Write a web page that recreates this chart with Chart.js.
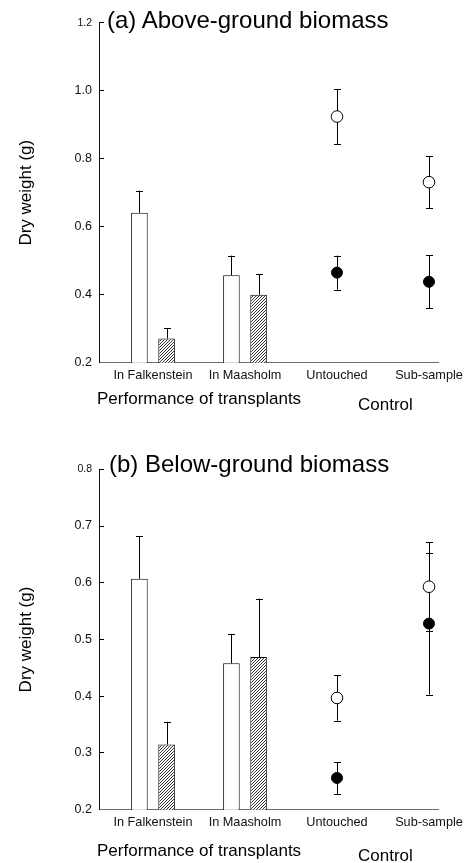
<!DOCTYPE html>
<html>
<head>
<meta charset="utf-8">
<script src="https://cdn.jsdelivr.net/npm/chart.js@4.4.1/dist/chart.umd.min.js"></script>
<style>
  html, body { margin: 0; padding: 0; background: #fff; }
  body { width: 472px; height: 863px; position: relative; overflow: hidden;
         font-family: "Liberation Sans", Arial, sans-serif; color: #000; }
  .panel { position: absolute; left: 0; width: 472px; }
  #p1 { top: 0; height: 430px; }
  #p2 { top: 430px; height: 433px; }
  .lbl { position: absolute; white-space: nowrap; line-height: 1; color: #000; }
  .ttl { font-size: 24px; }
  .grp { font-size: 17px; }
</style>
</head>
<body>
<div class="panel" id="p1"><canvas id="c1"></canvas></div>
<div class="panel" id="p2"><canvas id="c2"></canvas></div>

<div class="lbl ttl" style="left:107px; top:8px;">(a) Above-ground biomass</div>
<div class="lbl grp" style="left:97px; top:390px;">Performance of transplants</div>
<div class="lbl grp" style="left:358px; top:396px;">Control</div>

<div class="lbl ttl" style="left:109px; top:452px;">(b) Below-ground biomass</div>
<div class="lbl grp" style="left:97px; top:842px;">Performance of transplants</div>
<div class="lbl grp" style="left:358px; top:847px;">Control</div>

<script>
// ---------------- DATA ----------------
const categories = ['In Falkenstein', 'In Maasholm', 'Untouched', 'Sub-sample'];
const transplantIdx = [0, 1];   // categories with bars
const controlIdx = [2, 3];      // categories with points

// (a) Above-ground biomass
const aboveWhite = [0.641, 0.457];
const aboveWhiteErr = [0.065, 0.058];
const aboveHatch = [0.271, 0.400];
const aboveHatchErr = [0.031, 0.060];
const aboveOpen = [0.924, 0.731];
const aboveOpenErr = [0.081, 0.076];
const aboveFilled = [0.465, 0.438];
const aboveFilledErr = [0.050, 0.078];
const aboveTicks = [0.2, 0.4, 0.6, 0.8, 1.0, 1.2];

// (b) Below-ground biomass
const belowWhite = [0.607, 0.458];
const belowWhiteErr = [0.075, 0.052];
const belowHatch = [0.315, 0.469];
const belowHatchErr = [0.040, 0.103];
const belowOpen = [0.397, 0.593];
const belowOpenErr = [0.040, 0.078];
const belowFilled = [0.256, 0.528];
const belowFilledErr = [0.028, 0.125];
const belowTicks = [0.2, 0.3, 0.4, 0.5, 0.6, 0.7, 0.8];

const yTitle = 'Dry weight (g)';

// ---------------- STYLE / HELPERS ----------------
const FONT = '"Liberation Sans", Arial, sans-serif';
Chart.defaults.font.family = FONT;
Chart.defaults.color = '#111';

function makeHatch() {
  const s = 3;
  const c = document.createElement('canvas');
  c.width = s; c.height = s;
  const g = c.getContext('2d');
  g.fillStyle = '#fff'; g.fillRect(0, 0, s, s);
  g.strokeStyle = '#1a1a1a'; g.lineWidth = 0.9;
  g.beginPath();
  g.moveTo(0, s); g.lineTo(s, 0);
  g.moveTo(-1, 1); g.lineTo(1, -1);
  g.moveTo(s - 1, s + 1); g.lineTo(s + 1, s - 1);
  g.stroke();
  return g.createPattern(c, 'repeat');
}
const hatch = makeHatch();

const errorBarPlugin = {
  id: 'errorBars',
  beforeDatasetsDraw(chart) {
    const ctx = chart.ctx;
    const ys = chart.scales.y;
    const cap = 3.5;
    chart.data.datasets.forEach((ds, di) => {
      if (!ds.errors) return;
      const meta = chart.getDatasetMeta(di);
      meta.data.forEach((el, i) => {
        const v = ds.data[i].y, e = ds.errors[i];
        const px = Math.round(el.x) + 0.5;
        const top = ys.getPixelForValue(v + e);
        const bot = ds.errorBoth ? ys.getPixelForValue(v - e) : ys.getPixelForValue(v);
        ctx.save();
        ctx.strokeStyle = '#000';
        ctx.lineWidth = 1;
        ctx.beginPath();
        ctx.moveTo(px, top); ctx.lineTo(px, bot);
        ctx.moveTo(px - cap, Math.round(top) + 0.5); ctx.lineTo(px + cap, Math.round(top) + 0.5);
        if (ds.errorBoth) {
          ctx.moveTo(px - cap, Math.round(bot) + 0.5); ctx.lineTo(px + cap, Math.round(bot) + 0.5);
        }
        ctx.stroke();
        ctx.restore();
      });
    });
  }
};

function pts(idx, vals) { return idx.map((x, i) => ({ x: x, y: vals[i] })); }

function buildChart(canvasId, opts) {
  const yMax = opts.ticks[opts.ticks.length - 1];
  const yMin = opts.ticks[0];
  return new Chart(document.getElementById(canvasId), {
    type: 'bar',
    data: {
      datasets: [
        { label: 'white', data: pts(transplantIdx, opts.white), errors: opts.whiteErr,
          backgroundColor: '#fff', borderColor: '#000', borderWidth: 1,
          categoryPercentage: 0.59, barPercentage: 0.61 },
        { label: 'hatched', data: pts(transplantIdx, opts.hatch), errors: opts.hatchErr,
          backgroundColor: hatch, borderColor: '#000', borderWidth: 1,
          categoryPercentage: 0.59, barPercentage: 0.61 },
        { type: 'scatter', label: 'open', data: pts(controlIdx, opts.open), errors: opts.openErr, errorBoth: true,
          pointRadius: 5.8, pointBackgroundColor: '#fff', pointBorderColor: '#000', pointBorderWidth: 1 },
        { type: 'scatter', label: 'filled', data: pts(controlIdx, opts.filled), errors: opts.filledErr, errorBoth: true,
          pointRadius: 5.5, pointBackgroundColor: '#000', pointBorderColor: '#000', pointBorderWidth: 1 }
      ]
    },
    plugins: [errorBarPlugin],
    options: {
      responsive: true,
      maintainAspectRatio: false,
      animation: false,
      events: [],
      layout: { padding: { top: opts.padTop, right: 34, bottom: 0, left: 0 } },
      plugins: { legend: { display: false }, tooltip: { enabled: false }, title: { display: false } },
      scales: {
        x: {
          type: 'linear',
          offset: false,
          bounds: 'data',
          min: -0.587, max: 3.098,
          afterBuildTicks: (s) => { s.ticks = categories.map((c, i) => ({ value: i })); },
          afterFit: (s) => { s.height = opts.xHeight; },
          grid: { display: false, drawTicks: false, offset: false },
          border: { display: true, color: '#6e6e6e', width: 1 },
          ticks: {
            autoSkip: false, maxRotation: 0, padding: 5,
            font: { size: 12.7, family: FONT }, color: '#111',
            callback: (v, i) => categories[i]
          }
        },
        y: {
          type: 'linear',
          min: yMin, max: yMax,
          afterBuildTicks: (s) => { s.ticks = opts.ticks.map(v => ({ value: v })); },
          afterFit: (s) => { s.width = 99; },
          grid: { display: true, drawOnChartArea: false, drawTicks: true, tickLength: -5, color: '#000' },
          border: { display: true, color: '#111', width: 1 },
          ticks: {
            padding: 12,
            color: '#111',
            font: (c) => ({ size: (c.tick && Math.abs(c.tick.value - yMax) < 1e-9) ? 10.5 : 12.5, family: FONT }),
            callback: (v) => Number(v).toFixed(1)
          },
          title: { display: true, text: yTitle, font: { size: 17, family: FONT }, color: '#000',
                   padding: { top: 16, bottom: 0 } }
        }
      }
    }
  });
}

buildChart('c1', {
  white: aboveWhite, whiteErr: aboveWhiteErr, hatch: aboveHatch, hatchErr: aboveHatchErr,
  open: aboveOpen, openErr: aboveOpenErr, filled: aboveFilled, filledErr: aboveFilledErr,
  ticks: aboveTicks, padTop: 22.7, xHeight: 67.3
});
buildChart('c2', {
  white: belowWhite, whiteErr: belowWhiteErr, hatch: belowHatch, hatchErr: belowHatchErr,
  open: belowOpen, openErr: belowOpenErr, filled: belowFilled, filledErr: belowFilledErr,
  ticks: belowTicks, padTop: 39.3, xHeight: 53.3
});
</script>
</body>
</html>
